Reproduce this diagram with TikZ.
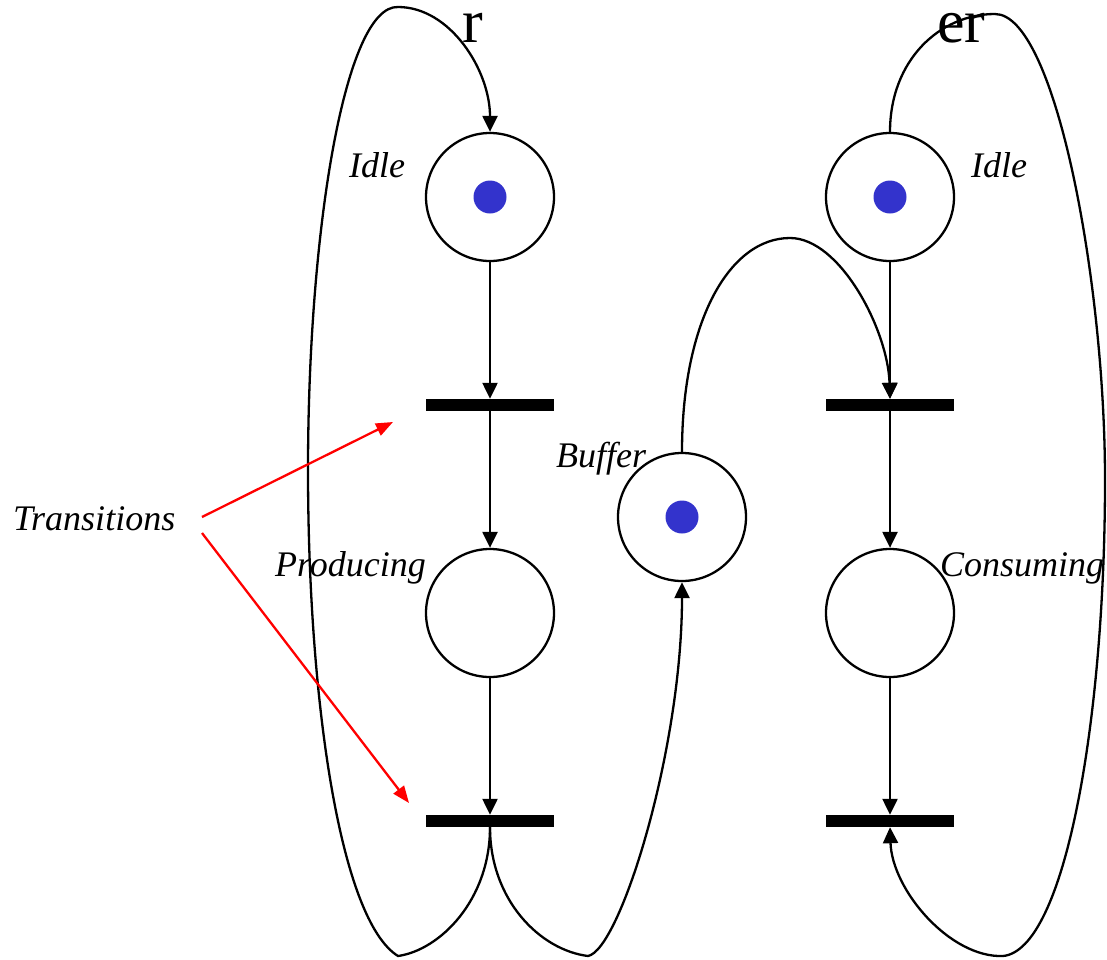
\documentclass[tikz,border=0pt]{standalone}
\usepackage{fontspec}
\setmainfont{Liberation Serif}
\usetikzlibrary{arrows.meta}
\definecolor{tokenblue}{RGB}{51,51,204}
\tikzset{
  place/.style={circle,draw,line width=2.3pt,minimum size=128pt,inner sep=0pt},
  token/.style={circle,fill=tokenblue,minimum size=33pt,inner sep=0pt},
  bar/.style={rectangle,fill=black,minimum width=128pt,minimum height=12pt,inner sep=0pt},
  arc/.style={line width=2.3pt,-{Triangle[length=16pt,width=15pt]}},
  redarc/.style={red,line width=2.3pt,-{Triangle[length=17pt,width=13pt]}},
  lab/.style={font=\fontsize{36}{40}\selectfont\itshape,inner sep=0pt,anchor=base west},
  big/.style={font=\fontsize{62}{66}\selectfont,inner sep=0pt,anchor=base west}
}
\begin{document}
\begin{tikzpicture}[x=1pt,y=-1pt]
\useasboundingbox (0,0) rectangle (1107,959);
% places
\node[place] (idleL) at (490,197) {};
\node[token] (tokL) at (490,197) {};
\node[place] (prod) at (490,613) {};
\node[place] (idleR) at (890,197) {};
\node[token] (tokR) at (890,197) {};
\node[place] (cons) at (890,613) {};
\node[place] (buf) at (682,517) {};
\node[token] (tokB) at (682,517) {};
% transitions
\node[bar] (t1L) at (490,405) {};
\node[bar] (t2L) at (490,821) {};
\node[bar] (t1R) at (890,405) {};
\node[bar] (t2R) at (890,821) {};
% straight arcs
\draw[arc] (idleL) -- (t1L);
\draw[arc] (t1L) -- (prod);
\draw[arc] (prod) -- (t2L);
\draw[arc] (idleR) -- (t1R);
\draw[arc] (t1R) -- (cons);
\draw[arc] (cons) -- (t2R);
% left loop: t2L -> idleL
\draw[arc] (t2L.south) .. controls (490,900) and (440,950) .. (398,956)
  .. controls (340,920) and (308,700) .. (308,470)
  .. controls (308,230) and (345,5) .. (398,7)
  .. controls (450,7) and (490,70) .. (idleL.north);
% t2L -> buffer
\draw[arc] (t2L.south) .. controls (490,900) and (540,950) .. (588,956)
  .. controls (620,950) and (682,750) .. (buf.south);
% buffer -> t1R
\draw[arc] (buf.north) .. controls (682,320) and (730,238) .. (790,238)
  .. controls (840,238) and (888,330) .. (t1R.north);
% idleR -> t2R
\draw[arc] (idleR.north) .. controls (890,60) and (940,14) .. (995,14)
  .. controls (1055,14) and (1105,280) .. (1105,480)
  .. controls (1105,720) and (1065,950) .. (1003,956)
  .. controls (950,958) and (892,890) .. (t2R.south);
% labels
\node[lab] (lIdleL) at (349,177) {Idle};
\node[lab] (lIdleR) at (971,177) {Idle};
\node[lab] (lBuf) at (556,467) {Buffer};
\node[lab] (lProd) at (275,576) {Producing};
\node[lab] (lCons) at (940,576) {Consuming};
\node[lab] (lTrans) at (13,530) {Transitions};
\node[big] (lr) at (462,42) {r};
\node[big] (ler) at (937,42) {er};
% red arrows
\coordinate (s1) at (202,517);
\coordinate (e1) at (393,422);
\coordinate (s2) at (202,533);
\coordinate (e2) at (409,803);
\draw[redarc] (s1) -- (e1);
\draw[redarc] (s2) -- (e2);
\end{tikzpicture}
\end{document}
